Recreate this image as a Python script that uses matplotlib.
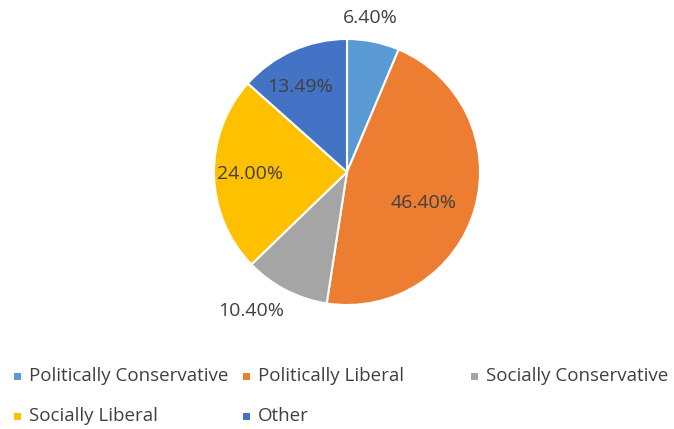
import numpy as np
import matplotlib.pyplot as plt
from matplotlib.patches import Rectangle

labels = ['Politically Conservative', 'Politically Liberal', 'Socially Conservative',
          'Socially Liberal', 'Other']
shares = [6.40, 46.40, 10.40, 24.00, 13.49]
colors = ['#5B9BD5', '#ED7D31', '#A5A5A5', '#FFC000', '#4472C4']

plt.rcParams['font.family'] = ['Open Sans', 'DejaVu Sans']
W, H = 674, 429
fig = plt.figure(figsize=(W / 100, H / 100), dpi=100, facecolor='white')

# pie centred at (347, 172) px, radius 133 px
cx, cy, r = 347, 172, 133
ax = fig.add_axes([(cx - r) / W, 1 - (cy + r) / H, 2 * r / W, 2 * r / H])
wedges, _ = ax.pie(shares, colors=colors, startangle=90, counterclock=False,
                   radius=1, wedgeprops=dict(edgecolor='white', linewidth=1.5))
ax.set_xlim(-1, 1)
ax.set_ylim(-1, 1)
ax.set_aspect('equal')
ax.axis('off')

# value labels near each wedge's mid angle
dist = [1.17, 0.62, 1.27, 0.73, 0.73]
shift = [3, -6, -7, 0, 5]
for w, v, d, s in zip(wedges, shares, dist, shift):
    mid = np.deg2rad((w.theta1 + w.theta2) / 2 + s)
    ax.text(d * np.cos(mid), d * np.sin(mid), f'{v:.2f}%', ha='center', va='center',
            fontsize=14, color='#404040', clip_on=False)

# legend, three columns laid out row by row
col_x = [17, 246, 474]
row_y = [376, 416]
for i, (lab, c) in enumerate(zip(labels, colors)):
    x = col_x[i % 3]
    y = row_y[i // 3]
    fig.add_artist(Rectangle(((x - 3.5) / W, 1 - (y + 3.5) / H), 7 / W, 7 / H,
                             transform=fig.transFigure, facecolor=c, edgecolor='none'))
    fig.text((x + 12) / W, 1 - y / H, lab, ha='left', va='center',
             fontsize=13.5, color='#404040')

fig.savefig('out.png', dpi=100, facecolor='white')
